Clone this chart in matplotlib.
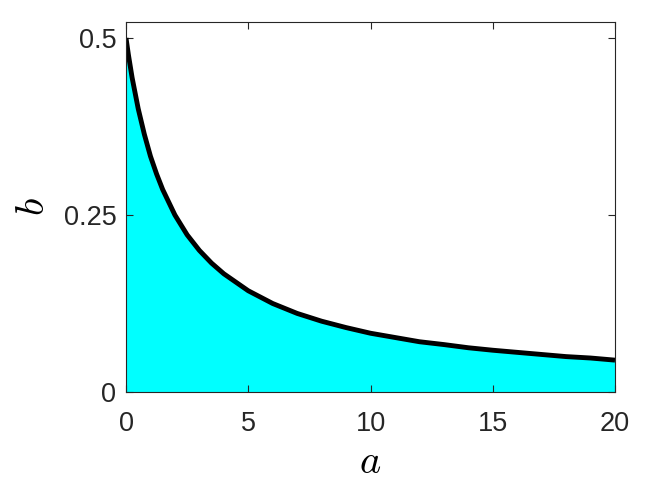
import matplotlib
matplotlib.use("Agg")
import matplotlib.pyplot as plt

# values
a_vals = [0, 0.1, 0.25, 0.5, 0.75, 1, 1.25, 1.5, 2, 2.5, 3, 3.5, 4, 5, 6, 7, 8, 9, 10,
          11, 12, 13, 14, 15, 16, 17, 18, 19, 20]
b_vals = [0.500, 0.476, 0.444, 0.400, 0.364, 0.333, 0.308, 0.286, 0.250, 0.222, 0.200,
          0.182, 0.167, 0.143, 0.125, 0.111, 0.100, 0.091, 0.083, 0.077, 0.071, 0.067,
          0.0625, 0.059, 0.056, 0.053, 0.050, 0.048, 0.045]
x_ticks = [0, 5, 10, 15, 20]
y_ticks = [0, 0.25, 0.5]
y_tick_labels = ["0", "0.25", "0.5"]

plt.rcParams["mathtext.fontset"] = "cm"
plt.rcParams["font.family"] = ["Liberation Sans", "DejaVu Sans"]

fig = plt.figure(figsize=(6.64, 4.88), dpi=100)
ax = fig.add_axes([126 / 664, 1 - 392 / 488, (615 - 126) / 664, (392 - 22) / 488])

ax.fill_between(a_vals, 0, b_vals, color="#00ffff", lw=0)
ax.plot(a_vals, b_vals, color="black", lw=3.5, solid_capstyle="butt")

ax.set_xlim(0, 20)
ax.set_ylim(0, 0.5226)
ax.set_xticks(x_ticks)
ax.set_yticks(y_ticks)
ax.set_yticklabels(y_tick_labels)
ax.tick_params(direction="in", top=True, right=True, length=5, width=0.8,
               labelsize=19.5, colors="#262626")
ax.tick_params(axis="x", pad=14)
ax.tick_params(axis="y", pad=7)
for s in ax.spines.values():
    s.set_color("#262626")
    s.set_linewidth(0.8)
ax.set_xlabel("$a$", fontsize=29, labelpad=4)
ax.set_ylabel("$b$", fontsize=29, labelpad=8)

fig.savefig("out.png", dpi=100)
